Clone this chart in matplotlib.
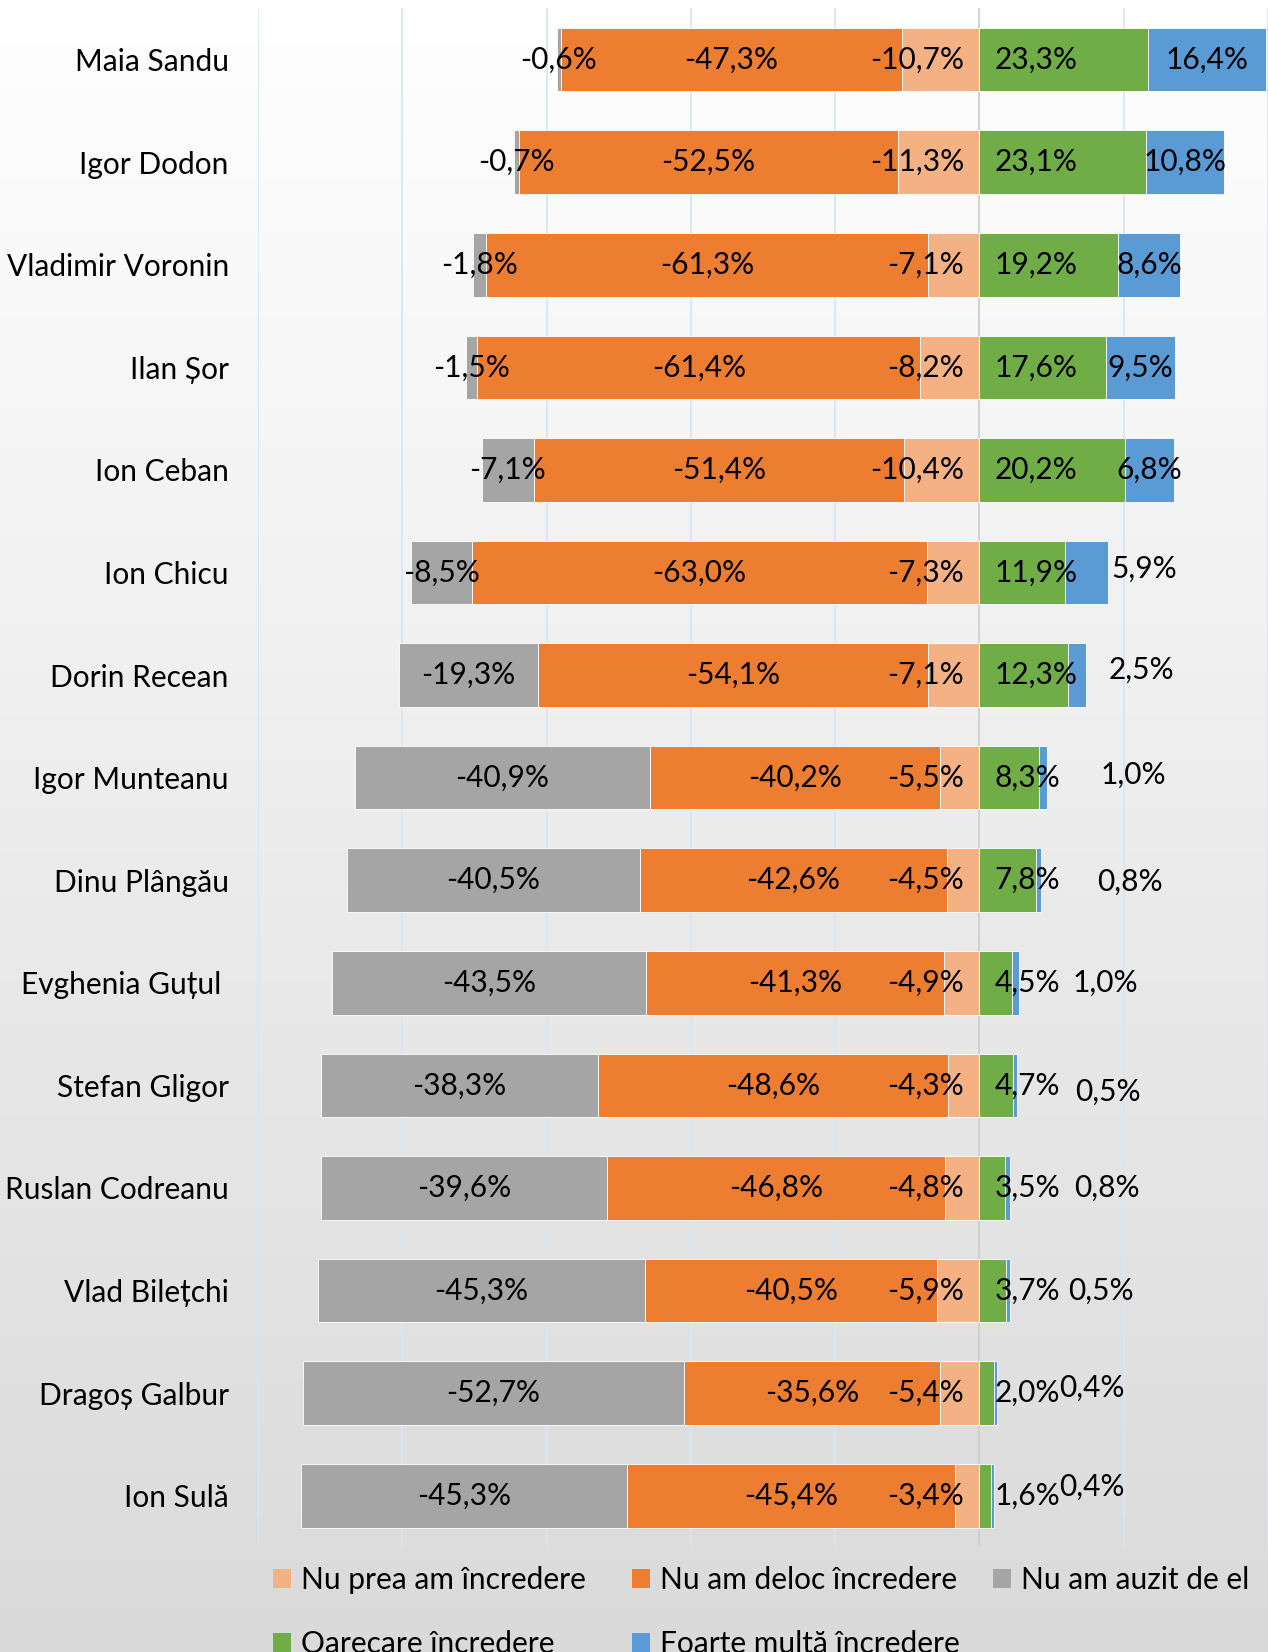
import matplotlib
matplotlib.use("Agg")
import matplotlib.pyplot as plt
from matplotlib.patches import Patch
import numpy as np

plt.rcParams['font.family'] = ['Lato', 'DejaVu Sans']

names = ["Maia Sandu", "Igor Dodon", "Vladimir Voronin", "Ilan Șor", "Ion Ceban",
         "Ion Chicu", "Dorin Recean", "Igor Munteanu", "Dinu Plângău", "Evghenia Guțul ",
         "Stefan Gligor", "Ruslan Codreanu", "Vlad Bilețchi", "Dragoș Galbur", "Ion Sulă"]
nu_am_auzit = [0.6, 0.7, 1.8, 1.5, 7.1, 8.5, 19.3, 40.9, 40.5, 43.5, 38.3, 39.6, 45.3, 52.7, 45.3]
nu_am_deloc = [47.3, 52.5, 61.3, 61.4, 51.4, 63.0, 54.1, 40.2, 42.6, 41.3, 48.6, 46.8, 40.5, 35.6, 45.4]
nu_prea = [10.7, 11.3, 7.1, 8.2, 10.4, 7.3, 7.1, 5.5, 4.5, 4.9, 4.3, 4.8, 5.9, 5.4, 3.4]
oarecare = [23.3, 23.1, 19.2, 17.6, 20.2, 11.9, 12.3, 8.3, 7.8, 4.5, 4.7, 3.5, 3.7, 2.0, 1.6]
foarte = [16.4, 10.8, 8.6, 9.5, 6.8, 5.9, 2.5, 1.0, 0.8, 1.0, 0.5, 0.8, 0.5, 0.4, 0.4]

legend_labels = ["Nu prea am încredere", "Nu am deloc încredere", "Nu am auzit de el",
                 "Oarecare încredere", "Foarte multă încredere"]

# manually placed labels for small blue segments (data x, y offset in rows); None = centred
blue_label_pos = [None, None, None, None, None,
                  (22.9, -0.04), (22.5, -0.05), (21.3, -0.03), (20.9, 0.01), (17.5, 0.0),
                  (17.8, 0.06), (17.7, 0.0), (16.8, 0.0), (15.6, -0.05), (15.6, -0.09)]

c_prea = "#F4B183"
c_deloc = "#ED7D31"
c_auzit = "#A5A5A5"
c_oare = "#70AD47"
c_foarte = "#5B9BD5"

FS = 21.5

W, H = 1268, 1652
fig = plt.figure(figsize=(W / 100, H / 100), dpi=100)

# background gradient
bg = fig.add_axes([0, 0, 1, 1], zorder=-10)
grad = np.linspace(1.0, 0.855, 256).reshape(-1, 1)
bg.imshow(np.dstack([grad, grad, grad]), aspect='auto', extent=[0, 1, 0, 1])
bg.set_axis_off()

ax = fig.add_axes([258 / W, 1 - 1547 / H, 1 - 258 / W, (1547 - 8.4) / H])
ax.patch.set_alpha(0)

y = np.arange(len(names))
a = np.array(nu_am_auzit)
d = np.array(nu_am_deloc)
p = np.array(nu_prea)
o = np.array(oarecare)
f = np.array(foarte)

h = 0.62
ek = dict(edgecolor="white", linewidth=0.6, zorder=3)
ax.barh(y, -p, height=h, color=c_prea, **ek)
ax.barh(y, -d, left=-p, height=h, color=c_deloc, **ek)
ax.barh(y, -a, left=-p - d, height=h, color=c_auzit, **ek)
ax.barh(y, o, height=h, color=c_oare, **ek)
ax.barh(y, f, left=o, height=h, color=c_foarte, **ek)

ax.set_xlim(-100, 40)
ax.set_ylim(len(names) - 0.5, -0.5)

for gx in range(-100, 41, 20):
    ax.axvline(gx, color="#cfcfcf" if gx == 0 else "#dbe5f1", lw=1.3, zorder=1)

ax.set_xticks([])
ax.set_yticks(y)
ax.set_yticklabels(names, fontsize=FS)
ax.tick_params(axis='y', length=0, pad=21)
for s in ax.spines.values():
    s.set_visible(False)


def fmt(v):
    return f"{v:.1f}%".replace('.', ',')


for i in range(len(names)):
    ax.text(-p[i] - d[i] - a[i] / 2, i, fmt(-a[i]), ha='center', va='center', fontsize=FS, zorder=5)
    ax.text(-p[i] - d[i] / 2, i, fmt(-d[i]), ha='center', va='center', fontsize=FS, zorder=5)
    ax.annotate(fmt(-p[i]), xy=(0, i), xytext=(-11, 0), textcoords='offset points',
                ha='right', va='center', fontsize=FS, zorder=5)
    ax.annotate(fmt(o[i]), xy=(0, i), xytext=(11, 0), textcoords='offset points',
                ha='left', va='center', fontsize=FS, zorder=5)
    pos = blue_label_pos[i]
    if pos is None:
        ax.text(o[i] + f[i] / 2, i, fmt(f[i]), ha='center', va='center', fontsize=FS, zorder=5)
    else:
        ax.text(pos[0], i + pos[1], fmt(f[i]), ha='center', va='center', fontsize=FS, zorder=5)

colors = [c_prea, c_deloc, c_auzit, c_oare, c_foarte]
handles = [Patch(facecolor=c, edgecolor='none') for c in colors]
# legend laid out in three equal-width columns, two rows (row-major order)
columns = [[0, 3], [1, 4], [2]]
col_x = [273, 632, 993]
for cx, idx in zip(col_x, columns):
    fig.legend([handles[k] for k in idx], [legend_labels[k] for k in idx],
               ncol=1, loc='upper left', bbox_to_anchor=(cx / W, 1 - 1566 / H),
               frameon=False, fontsize=FS, handlelength=0.6, handleheight=0.6,
               handletextpad=0.35, labelspacing=1.2, borderpad=0, borderaxespad=0)

fig.savefig("out.png", dpi=100)
